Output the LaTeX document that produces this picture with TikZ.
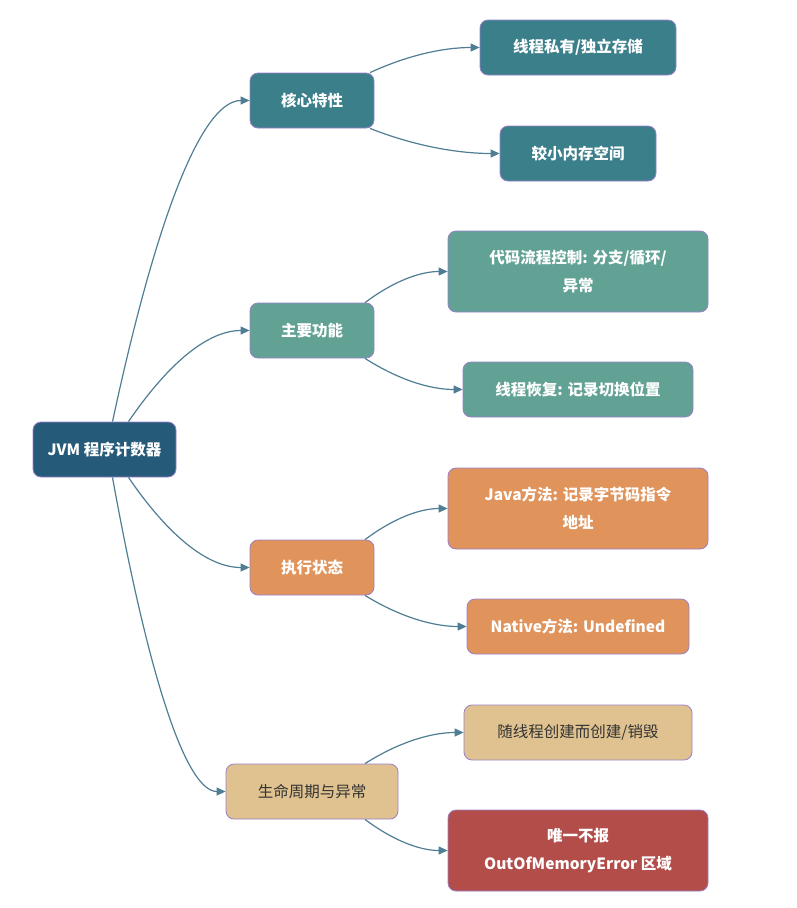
\documentclass[tikz,border=0pt]{standalone}
\usepackage{fontspec}
\setmainfont{Noto Sans CJK SC}
\usepackage{xcolor}
\definecolor{rootblue}{HTML}{255A78}
\definecolor{coreteal}{HTML}{3A7F8A}
\definecolor{funcgreen}{HTML}{62A295}
\definecolor{stateorange}{HTML}{E0945C}
\definecolor{lifetan}{HTML}{DFC28F}
\definecolor{errred}{HTML}{B34D4A}
\definecolor{rimpurple}{HTML}{9A80C8}
\definecolor{linkblue}{HTML}{4F7D94}
\definecolor{darktext}{HTML}{333333}
\usetikzlibrary{positioning,arrows.meta}

\tikzset{
	box/.style={draw=rimpurple, line width=0.8pt, rounded corners=8pt, align=center,
		font=\fontsize{15.5}{28}\selectfont\bfseries, text=white, inner sep=0pt},
	link/.style={draw=linkblue, line width=1.2pt, -{Triangle[length=9pt,width=8pt]}},
}

\begin{document}
\begin{tikzpicture}[x=1pt,y=-1pt]
	\useasboundingbox (0,0) rectangle (797,908);
	
	% root
	\node[box, fill=rootblue, minimum width=143pt, minimum height=55pt] (root) at (104.5,449.5) {JVM 程序计数器};
	
	% first level
	\node[box, fill=coreteal, minimum width=124pt, minimum height=55pt] (core) at (312,100.5) {核心特性};
	\node[box, fill=funcgreen, minimum width=124pt, minimum height=55pt] (func) at (312,330.5) {主要功能};
	\node[box, fill=stateorange, minimum width=124pt, minimum height=55pt] (state) at (312,567.5) {执行状态};
	\node[box, fill=lifetan, text=darktext, font=\fontsize{15.5}{28}\selectfont, minimum width=172pt, minimum height=55pt] (life) at (312,791.5) {生命周期与异常};
	
	% second level
	\node[box, fill=coreteal, minimum width=196pt, minimum height=55pt] (private) at (578,47.5) {线程私有/独立存储};
	\node[box, fill=coreteal, minimum width=156pt, minimum height=55pt] (small) at (578,153.5) {较小内存空间};
	\node[box, fill=funcgreen, minimum width=260pt, minimum height=81pt] (flow) at (578,271.5) {代码流程控制: 分支/循环/\\异常};
	\node[box, fill=funcgreen, minimum width=230pt, minimum height=55pt] (resume) at (578,389.5) {线程恢复: 记录切换位置};
	\node[box, fill=stateorange, minimum width=260pt, minimum height=81pt] (java) at (578,508.5) {Java方法: 记录字节码指令\\地址};
	\node[box, fill=stateorange, minimum width=222pt, minimum height=55pt] (native) at (578,626.5) {Native方法: Undefined};
	\node[box, fill=lifetan, text=darktext, font=\fontsize{15.5}{28}\selectfont, minimum width=228pt, minimum height=55pt] (birth) at (578,732.5) {随线程创建而创建/销毁};
	\node[box, fill=errred, minimum width=260pt, minimum height=81pt] (oom) at (578,850.5) {唯一不报\\OutOfMemoryError 区域};
	
	% links from root
	\draw[link] ([xshift=8pt]root.north) .. controls +(46,-214) and +(-46,0) .. (core.west);
	\draw[link] ([xshift=24pt]root.north) .. controls +(41,-60) and +(-41,0) .. (func.west);
	\draw[link] ([xshift=24pt]root.south) .. controls +(41,60) and +(-41,0) .. (state.west);
	\draw[link] ([xshift=8pt]root.south) .. controls +(38,210) and +(-38,0) .. (life.west);
	
	% links to leaves
	\draw[link] ([xshift=58pt]core.north) .. controls +(37,-17) and +(-37,0) .. (private.west);
	\draw[link] ([xshift=58pt]core.south) .. controls +(43,17) and +(-43,0) .. (small.west);
	\draw[link] ([xshift=53pt]func.north) .. controls +(28,-21) and +(-28,0) .. (flow.west);
	\draw[link] ([xshift=53pt]func.south) .. controls +(33,21) and +(-33,0) .. (resume.west);
	\draw[link] ([xshift=53pt]state.north) .. controls +(28,-21) and +(-28,0) .. (java.west);
	\draw[link] ([xshift=53pt]state.south) .. controls +(34,21) and +(-34,0) .. (native.west);
	\draw[link] ([xshift=53pt]life.north) .. controls +(33,-21) and +(-33,0) .. (birth.west);
	\draw[link] ([xshift=53pt]life.south) .. controls +(28,21) and +(-28,0) .. (oom.west);
\end{tikzpicture}
\end{document}
